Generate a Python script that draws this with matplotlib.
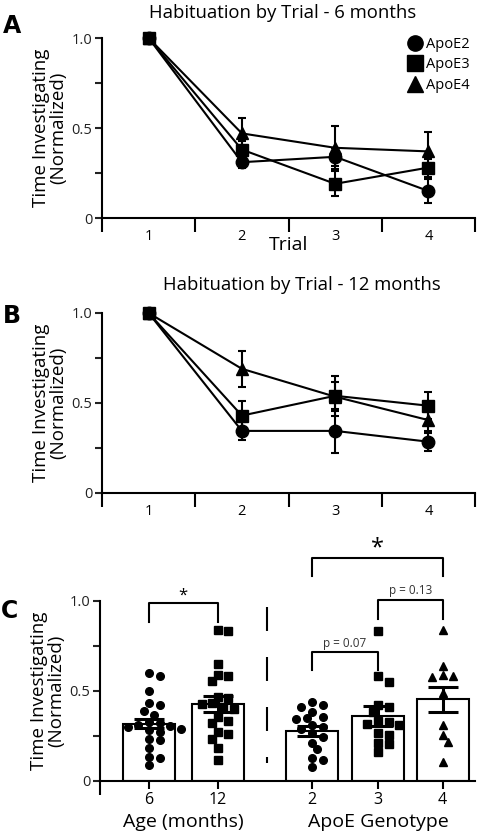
import numpy as np
import matplotlib.pyplot as plt
from matplotlib.lines import Line2D

plt.rcParams['font.family'] = ['Open Sans', 'DejaVu Sans']

# Panel A / B : habituation by trial
trials = [1, 2, 3, 4]
groups = ['ApoE2', 'ApoE3', 'ApoE4']
markers = ['o', 's', '^']

e2_6m = [1.0, 0.31, 0.34, 0.15]
e2_6m_err = [0.0, 0.03, 0.05, 0.065]
e3_6m = [1.0, 0.38, 0.19, 0.28]
e3_6m_err = [0.0, 0.05, 0.07, 0.05]
e4_6m = [1.0, 0.47, 0.39, 0.37]
e4_6m_err = [0.0, 0.085, 0.12, 0.11]

e2_12m = [1.0, 0.345, 0.345, 0.285]
e2_12m_err = [0.0, 0.05, 0.12, 0.05]
e3_12m = [1.0, 0.43, 0.54, 0.485]
e3_12m_err = [0.0, 0.08, 0.11, 0.075]
e4_12m = [1.0, 0.69, 0.535, 0.405]
e4_12m_err = [0.0, 0.10, 0.08, 0.06]

# Panel C : individual animals + mean/SEM
bar_labels = ['6', '12', '2', '3', '4']
bar_means = [0.316, 0.425, 0.276, 0.361, 0.452]
bar_sems = [0.025, 0.045, 0.027, 0.055, 0.07]

pts_6m = [0.60, 0.58, 0.50, 0.43, 0.42, 0.39, 0.365, 0.325, 0.318, 0.309, 0.302,
          0.298, 0.287, 0.28, 0.272, 0.226, 0.23, 0.18, 0.133, 0.124, 0.087]
pts_12m = [0.84, 0.83, 0.65, 0.58, 0.59, 0.556, 0.467, 0.457, 0.433, 0.425, 0.41,
           0.40, 0.355, 0.33, 0.32, 0.27, 0.26, 0.23, 0.183, 0.115]
pts_e2 = [0.44, 0.42, 0.41, 0.383, 0.353, 0.341, 0.347, 0.30, 0.29, 0.31, 0.263,
          0.208, 0.245, 0.174, 0.124, 0.115, 0.074]
pts_e3 = [0.83, 0.58, 0.55, 0.42, 0.41, 0.38, 0.324, 0.31, 0.33, 0.315, 0.263,
          0.255, 0.211, 0.205, 0.158]
pts_e4 = [0.84, 0.64, 0.58, 0.585, 0.575, 0.49, 0.31, 0.254, 0.217, 0.106]

W, H = 480, 836
fig = plt.figure(figsize=(W / 100, H / 100), dpi=100)


def px_axes(left, right, top, bottom):
    return fig.add_axes([left / W, 1 - bottom / H, (right - left) / W, (bottom - top) / H])


def style_axes(ax):
    for s in ['top', 'right']:
        ax.spines[s].set_visible(False)
    for s in ['left', 'bottom']:
        ax.spines[s].set_linewidth(1.5)
    ax.spines['left'].set_bounds(0, 1)
    ax.set_ylim(0, 1)
    ax.set_yticks([0, 0.25, 0.5, 0.75, 1.0])
    ax.set_yticklabels(['0', '', '0.5', '', '1.0'])
    ax.tick_params(axis='y', length=5, width=1.5, labelsize=10.5, pad=2, colors='#222222')
    ax.set_ylabel('Time Investigating\n(Normalized)', fontsize=13.5, linespacing=0.95, labelpad=3)


def trial_panel(ax, series):
    for (y, e), m, lab in zip(series, markers, groups):
        ax.errorbar(trials, y, yerr=e, fmt='-' + m, color='black', lw=1.5,
                    markersize=9, capsize=3, elinewidth=1.5, capthick=1.5,
                    clip_on=False)
    style_axes(ax)
    ax.set_xlim(0.5, 4.5)
    ax.set_xticks(trials)
    ax.set_xticks([0.5, 1.5, 2.5, 3.5, 4.5], minor=True)
    ax.tick_params(axis='x', which='major', length=0, labelsize=10.5, pad=8)
    ax.tick_params(axis='x', which='minor', length=10, width=1.5)


# ---- A ----
axA = px_axes(102, 475, 38, 218)
trial_panel(axA, [(e2_6m, e2_6m_err), (e3_6m, e3_6m_err), (e4_6m, e4_6m_err)])
axA.set_xlabel('Trial', fontsize=14, labelpad=-6)
handles = [Line2D([], [], marker=m, color='black', ls='none', markersize=11) for m in markers]
axA.legend(handles, groups, loc='upper right', frameon=False, fontsize=10.5, handletextpad=0.05,
           handlelength=1.3, labelspacing=0.4, borderaxespad=0.0,
           bbox_to_anchor=(1.0, 1.04))
fig.text(283 / W, 1 - 13 / H, 'Habituation by Trial - 6 months', ha='center', va='center', fontsize=13.3)
fig.text(12 / W, 1 - 26 / H, 'A', ha='center', va='center', fontsize=17, fontweight='bold',
         family=['DejaVu Sans'])

# ---- B ----
axB = px_axes(102, 475, 313, 493)
trial_panel(axB, [(e2_12m, e2_12m_err), (e3_12m, e3_12m_err), (e4_12m, e4_12m_err)])
fig.text(302 / W, 1 - 285 / H, 'Habituation by Trial - 12 months', ha='center', va='center', fontsize=13.3)
fig.text(12 / W, 1 - 316 / H, 'B', ha='center', va='center', fontsize=17, fontweight='bold',
         family=['DejaVu Sans'])

# ---- C ----
axC = px_axes(100, 475, 600.7, 780.7)
style_axes(axC)
xs_px, ys_px = 66.0, 180.0
xmin = -0.74
axC.set_xlim(xmin, xmin + 375 / xs_px)
pos = [0.0, 1.045, 2.47, 3.47, 4.45]


def swarm(vals, center, d=8.0, step=5.33):
    placed = []
    out = np.zeros(len(vals))
    for i in np.argsort(vals)[::-1]:
        y = vals[i] * ys_px
        x = 0.0
        for k in range(60):
            cand = 0.0 if k == 0 else ((k + 1) // 2) * step * (1 if k % 2 else -1)
            if all((cand - px) ** 2 + (y - py) ** 2 >= d ** 2 for px, py in placed):
                x = cand
                break
        placed.append((x, y))
        out[i] = center + x / xs_px
    return out


axC.bar(pos, bar_means, width=52 / xs_px, color='white', edgecolor='black', lw=1.5, zorder=1)
for p, vals, m in zip(pos, [pts_6m, pts_12m, pts_e2, pts_e3, pts_e4], ['o', 's', 'o', 's', '^']):
    axC.plot(swarm(np.array(vals), p), vals, m, color='black', markersize=5.5, ls='none', zorder=2)
axC.errorbar(pos, bar_means, yerr=bar_sems, fmt='none', ecolor='black', elinewidth=2.2,
             capsize=11, capthick=2.2, zorder=3)
axC.set_xticks(pos)
axC.set_xticklabels(bar_labels)
axC.set_xticks([xmin], minor=True)
axC.tick_params(axis='x', which='major', length=6, width=1.5, labelsize=11.5, pad=2)
axC.tick_params(axis='x', which='minor', length=10, width=1.5)

# separator
sep = (267 - 100) / xs_px + xmin
axC.plot([sep, sep], [0.967, 0.10], color='black', lw=1.5, ls=(0, (11.5, 12.5)))


def bracket(x1, x2, top, leg, text, fs, ty, color='black'):
    axC.plot([x1, x1, x2, x2], [leg, top, top, leg], color='black', lw=1.5, clip_on=False)
    axC.text((x1 + x2) / 2, ty, text, ha='center', va='center', fontsize=fs, color=color, clip_on=False)


bracket(pos[0], pos[1], 0.987, 0.883, '*', 12, 1.03)
bracket(pos[2], pos[3], 0.713, 0.615, 'p = 0.07', 8.5, 0.76, '#333333')
bracket(pos[3], pos[4], 1.003, 0.90, 'p = 0.13', 8.5, 1.055, '#333333')
bracket(pos[2], pos[4], 1.235, 1.139, '*', 17, 1.29)

fig.text(183 / W, 1 - 822 / H, 'Age (months)', ha='center', va='center', fontsize=14)
fig.text(378 / W, 1 - 822 / H, 'ApoE Genotype', ha='center', va='center', fontsize=14)
fig.text(10 / W, 1 - 611 / H, 'C', ha='center', va='center', fontsize=17, fontweight='bold',
         family=['DejaVu Sans'])

fig.savefig('out.png', dpi=100)
